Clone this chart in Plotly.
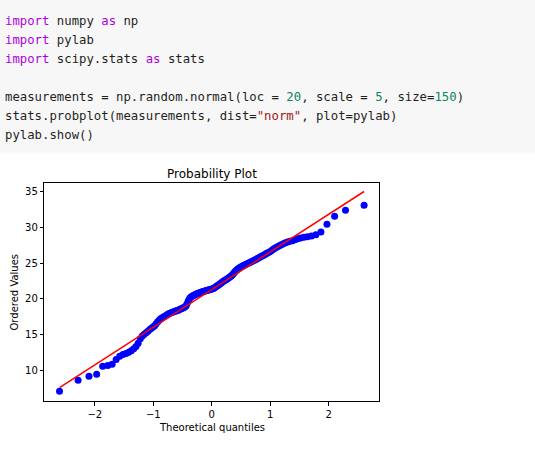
import numpy as np
import plotly.graph_objects as go

# Theoretical quantiles (x), 150 points
theoretical_quantiles = [
    -2.604, -2.286, -2.100, -1.969, -1.866, -1.779, -1.704, -1.635, -1.575, -1.520,
    -1.468, -1.421, -1.377, -1.335, -1.296, -1.259, -1.223, -1.188, -1.155, -1.123,
    -1.092, -1.062, -1.034, -1.005, -0.978, -0.952, -0.925, -0.900, -0.876, -0.851,
    -0.828, -0.804, -0.781, -0.759, -0.737, -0.715, -0.694, -0.673, -0.652, -0.632,
    -0.611, -0.591, -0.572, -0.552, -0.533, -0.514, -0.495, -0.476, -0.457, -0.439,
    -0.421, -0.403, -0.385, -0.367, -0.349, -0.331, -0.314, -0.296, -0.279, -0.261,
    -0.244, -0.227, -0.210, -0.193, -0.176, -0.159, -0.142, -0.125, -0.109, -0.092,
    -0.075, -0.058, -0.042, -0.025, -0.008,
    0.008, 0.025, 0.042, 0.058, 0.075, 0.092, 0.109, 0.125, 0.142, 0.159,
    0.176, 0.193, 0.210, 0.227, 0.244, 0.261, 0.279, 0.296, 0.314, 0.331,
    0.349, 0.367, 0.385, 0.403, 0.421, 0.439, 0.457, 0.476, 0.495, 0.514,
    0.533, 0.552, 0.572, 0.591, 0.611, 0.632, 0.652, 0.673, 0.694, 0.715,
    0.737, 0.759, 0.781, 0.804, 0.828, 0.851, 0.876, 0.900, 0.925, 0.952,
    0.978, 1.005, 1.034, 1.062, 1.092, 1.123, 1.155, 1.188, 1.223, 1.259,
    1.296, 1.335, 1.377, 1.421, 1.468, 1.520, 1.575, 1.635, 1.704, 1.779,
    1.866, 1.969, 2.100, 2.286, 2.604,
]

# Ordered values (y)
ordered_values = [
    7.06, 8.60, 9.16, 9.44, 10.56, 10.66, 10.86, 11.50, 11.98, 12.20,
    12.35, 12.52, 12.75, 13.02, 13.32, 13.80, 14.40, 14.80, 15.05, 15.25,
    15.46, 15.71, 15.90, 16.05, 16.25, 16.52, 16.80, 17.02, 17.20, 17.32,
    17.45, 17.58, 17.68, 17.80, 17.90, 17.98, 18.05, 18.12, 18.18, 18.25,
    18.30, 18.36, 18.42, 18.50, 18.58, 18.65, 18.72, 18.80, 18.88, 19.05,
    19.35, 19.70, 19.98, 20.18, 20.30, 20.40, 20.48, 20.55, 20.62, 20.68,
    20.74, 20.80, 20.85, 20.90, 20.95, 21.00, 21.04, 21.08, 21.12, 21.16,
    21.20, 21.24, 21.28, 21.32, 21.36,
    21.40, 21.45, 21.52, 21.62, 21.72, 21.82, 21.92, 22.02, 22.12, 22.22,
    22.32, 22.42, 22.52, 22.62, 22.70, 22.78, 22.88, 22.98, 23.08, 23.20,
    23.34, 23.50, 23.68, 23.86, 24.02, 24.15, 24.26, 24.36, 24.45, 24.54,
    24.62, 24.70, 24.78, 24.86, 24.94, 25.02, 25.10, 25.18, 25.27, 25.36,
    25.45, 25.55, 25.65, 25.75, 25.86, 25.97, 26.08, 26.19, 26.30, 26.42,
    26.54, 26.68, 26.84, 27.00, 27.16, 27.30, 27.44, 27.58, 27.72, 27.84,
    27.95, 28.05, 28.15, 28.28, 28.40, 28.52, 28.62, 28.70, 28.80, 28.98,
    29.36, 30.44, 31.56, 32.40, 33.10,
]

x_tick_values = [-2, -1, 0, 1, 2]
y_tick_values = [10, 15, 20, 25, 30, 35]

KW = "#af00db"
NUM = "#098658"
STR = "#a31515"

def c(text, color):
    return f'<span style="color:{color}">{text}</span>'

code_lines = [
    f"{c('import', KW)} numpy {c('as', KW)} np",
    f"{c('import', KW)} pylab",
    f"{c('import', KW)} scipy.stats {c('as', KW)} stats",
    "",
    f"measurements = np.random.normal(loc = {c('20', NUM)}, scale = {c('5', NUM)}, size={c('150', NUM)})",
    "stats.probplot(measurements, dist=" + c('"norm"', STR) + ", plot=pylab)",
    "pylab.show()",
]

W, H = 535, 449

def px_x(p):
    return p / W

def px_y(p):
    return 1 - p / H

x = np.array(theoretical_quantiles)
y = np.array(ordered_values)
slope, intercept = np.polyfit(x, y, 1)
fit = slope * x + intercept

fig = go.Figure()
fig.add_trace(go.Scatter(
    x=x, y=y, mode="markers",
    marker=dict(color="#0000ff", size=7, line=dict(width=0)),
    showlegend=False, hoverinfo="skip",
))
fig.add_trace(go.Scatter(
    x=x, y=fit, mode="lines",
    line=dict(color="#ff0000", width=1.5),
    showlegend=False, hoverinfo="skip",
))

axis_common = dict(
    showgrid=False, zeroline=False,
    showline=True, linecolor="#000000", linewidth=1, mirror=True,
    ticks="outside", ticklen=3.5, tickwidth=1, tickcolor="#000000",
    tickfont=dict(family="DejaVu Sans", size=10, color="#000000"),
)

fig.update_layout(
    width=W, height=H,
    margin=dict(l=0, r=0, t=0, b=0),
    paper_bgcolor="#ffffff", plot_bgcolor="#ffffff",
    xaxis=dict(
        domain=[px_x(44.3), px_x(379.3)],
        range=[-2.864, 2.864],
        tickvals=x_tick_values,
        **axis_common,
    ),
    yaxis=dict(
        domain=[px_y(401), px_y(183.3)],
        range=[5.70, 36.18],
        tickvals=y_tick_values,
        **axis_common,
    ),
)

# Code cell background
fig.add_shape(type="rect", xref="paper", yref="paper",
              x0=0, x1=1, y0=px_y(152.5), y1=1,
              fillcolor="#f7f7f7", line=dict(width=0), layer="below")

line_centers = [21, 40, 59, 78, 97, 116, 135]
for txt, yc in zip(code_lines, line_centers):
    if not txt:
        continue
    fig.add_annotation(
        text=txt, xref="paper", yref="paper",
        x=px_x(3), y=px_y(yc), xanchor="left", yanchor="middle",
        showarrow=False,
        font=dict(family="DejaVu Sans Mono", size=12.3, color="#1f1f1f"),
    )

# Chart title and axis labels
fig.add_annotation(text="Probability Plot", xref="paper", yref="paper",
                   x=px_x(211.8), y=px_y(173.5), xanchor="center", yanchor="middle",
                   showarrow=False,
                   font=dict(family="DejaVu Sans", size=12, color="#000000"))
fig.add_annotation(text="Theoretical quantiles", xref="paper", yref="paper",
                   x=px_x(211.8), y=px_y(427), xanchor="center", yanchor="middle",
                   showarrow=False,
                   font=dict(family="DejaVu Sans", size=10, color="#000000"))
fig.add_annotation(text="Ordered Values", xref="paper", yref="paper",
                   x=px_x(13.5), y=px_y(292), xanchor="center", yanchor="middle",
                   textangle=-90, showarrow=False,
                   font=dict(family="DejaVu Sans", size=10, color="#000000"))

fig.write_html(
    "out.html",
    config={"displayModeBar": False},
    post_script="document.body.style.margin='0';document.body.style.padding='0';",
)
